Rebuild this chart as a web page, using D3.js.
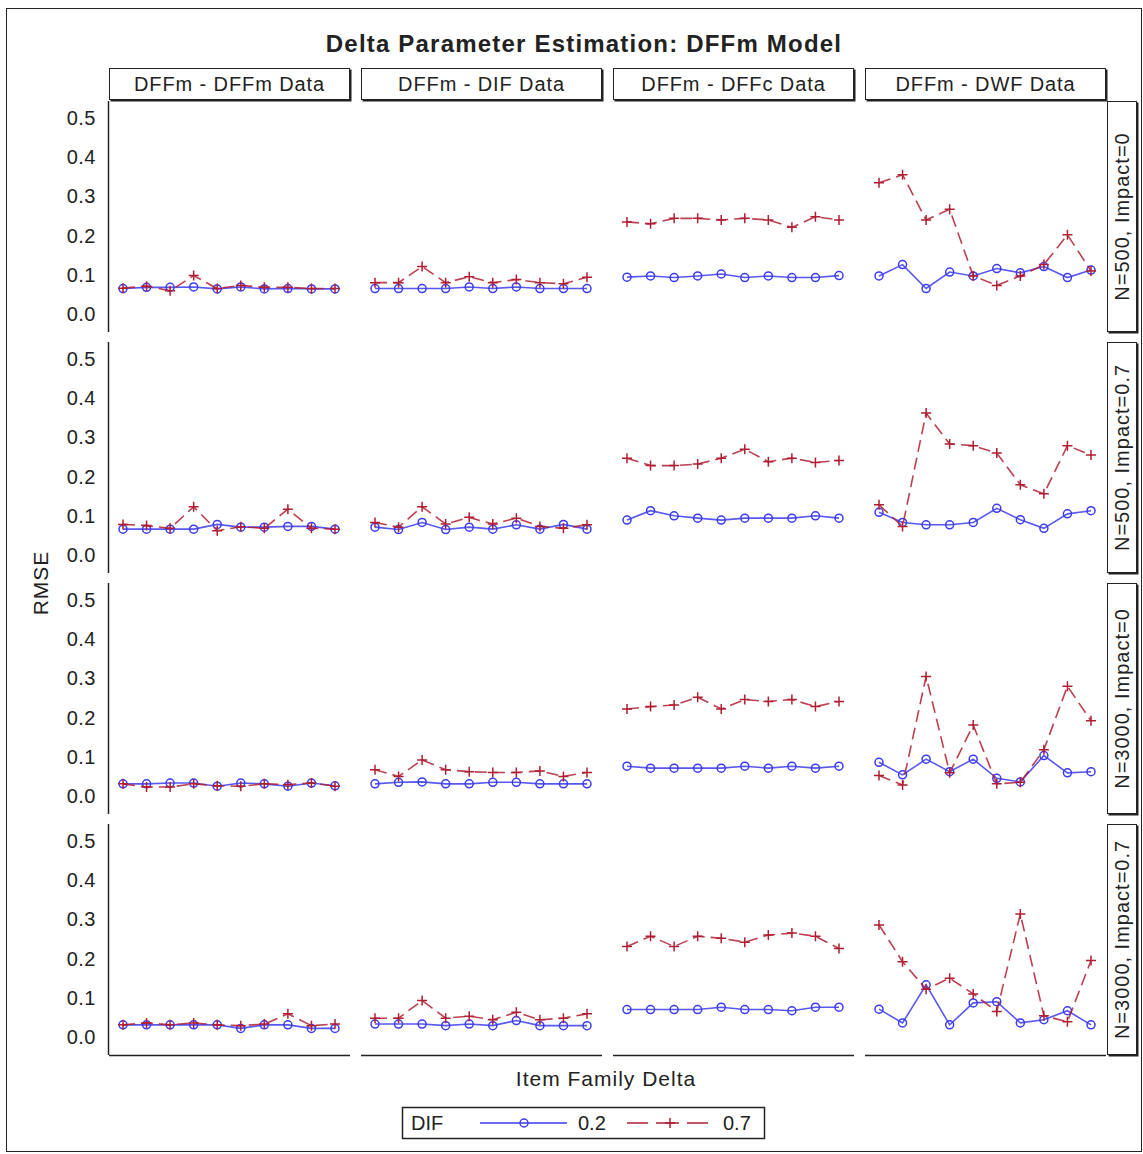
<!DOCTYPE html>
<html>
<head>
<meta charset="utf-8">
<script src="https://cdn.jsdelivr.net/npm/d3@7"></script>
<style>
  body { margin: 0; background: #fff; }
  text { font-family: "Liberation Sans", Arial, sans-serif; fill: #222; }
</style>
</head>
<body>
<div id="chart"></div>
<script>

// facets
var colNames = ["DFFm - DFFm Data", "DFFm - DIF Data", "DFFm - DFFc Data", "DFFm - DWF Data"];
var rowNames = ["N=500, Impact=0", "N=500, Impact=0.7", "N=3000, Impact=0", "N=3000, Impact=0.7"];

// item family delta (10 items, no labels shown)
var delta = [1, 2, 3, 4, 5, 6, 7, 8, 9, 10];
var yTicks = [0.0, 0.1, 0.2, 0.3, 0.4, 0.5];

// RMSE, DIF = 0.2, [row][col]
var dif02 = [
  [[0.065,0.068,0.068,0.069,0.064,0.069,0.064,0.065,0.064,0.064],
   [0.065,0.065,0.065,0.065,0.069,0.065,0.069,0.065,0.065,0.065],
   [0.094,0.097,0.093,0.097,0.102,0.093,0.097,0.093,0.093,0.098],
   [0.097,0.126,0.065,0.107,0.097,0.116,0.105,0.121,0.093,0.112]],
  [[0.066,0.066,0.066,0.066,0.078,0.071,0.071,0.073,0.073,0.066],
   [0.071,0.065,0.083,0.065,0.071,0.066,0.077,0.066,0.078,0.066],
   [0.089,0.113,0.100,0.094,0.089,0.094,0.094,0.094,0.100,0.094],
   [0.109,0.083,0.077,0.077,0.083,0.119,0.090,0.068,0.105,0.113]],
  [[0.031,0.031,0.033,0.033,0.025,0.033,0.031,0.025,0.033,0.026],
   [0.031,0.035,0.036,0.031,0.031,0.035,0.035,0.031,0.031,0.031],
   [0.076,0.071,0.071,0.071,0.071,0.076,0.071,0.076,0.071,0.076],
   [0.086,0.054,0.094,0.062,0.094,0.045,0.036,0.103,0.059,0.062]],
  [[0.031,0.031,0.031,0.031,0.031,0.022,0.031,0.031,0.022,0.022],
   [0.033,0.033,0.033,0.029,0.033,0.029,0.042,0.029,0.029,0.029],
   [0.070,0.070,0.070,0.070,0.076,0.070,0.070,0.067,0.076,0.076],
   [0.071,0.036,0.133,0.031,0.087,0.090,0.036,0.044,0.067,0.031]]
];

// RMSE, DIF = 0.7, [row][col]
var dif07 = [
  [[0.066,0.071,0.059,0.098,0.065,0.073,0.068,0.068,0.065,0.065],
   [0.080,0.080,0.121,0.080,0.095,0.080,0.088,0.080,0.077,0.094],
   [0.235,0.230,0.244,0.244,0.240,0.244,0.240,0.221,0.248,0.240],
   [0.335,0.355,0.240,0.267,0.097,0.073,0.097,0.126,0.202,0.110]],
  [[0.078,0.075,0.068,0.123,0.062,0.072,0.068,0.117,0.068,0.066],
   [0.083,0.071,0.123,0.079,0.096,0.079,0.094,0.073,0.068,0.077],
   [0.247,0.228,0.228,0.232,0.247,0.270,0.238,0.247,0.236,0.241],
   [0.128,0.073,0.362,0.283,0.279,0.260,0.179,0.156,0.279,0.255]],
  [[0.031,0.023,0.023,0.031,0.026,0.025,0.031,0.029,0.033,0.025],
   [0.067,0.050,0.092,0.067,0.062,0.060,0.060,0.064,0.050,0.060],
   [0.222,0.228,0.232,0.252,0.222,0.246,0.241,0.246,0.228,0.241],
   [0.052,0.028,0.305,0.059,0.181,0.031,0.035,0.118,0.280,0.192]],
  [[0.031,0.036,0.031,0.036,0.031,0.029,0.033,0.059,0.029,0.033],
   [0.048,0.048,0.093,0.048,0.053,0.044,0.063,0.044,0.048,0.059],
   [0.231,0.257,0.231,0.257,0.252,0.242,0.260,0.265,0.257,0.226],
   [0.286,0.192,0.122,0.150,0.110,0.065,0.314,0.054,0.039,0.195]]
];

var legendLabels = ["0.2", "0.7"];

var width = 1143, height = 1154;
var blue = "#3b3bf0", red = "#b01e32";

var panelW = 241, panelH = 231;
var left0 = 109, top0 = 101;
var colStep = 252, rowStep = 241;

var svg = d3.select("#chart")
  .append("svg")
  .attr("width", width)
  .attr("height", height);

// outer frame
svg.append("rect")
  .attr("x", 6.5).attr("y", 8.5)
  .attr("width", 1135).attr("height", 1143)
  .attr("fill", "none")
  .attr("stroke", "#222");

svg.append("text")
  .attr("x", 584).attr("y", 52)
  .attr("text-anchor", "middle")
  .style("font-size", "24px")
  .style("font-weight", "bold")
  .style("letter-spacing", "1.2px")
  .text("Delta Parameter Estimation: DFFm Model");

var x = d3.scaleLinear().domain([1, 10]).range([14, 226]);
var y = d3.scaleLinear().domain([0, 0.5]).range([213, 17]);

// strip box with a little shadow on bottom/right
function strip(g, w, h) {
  g.append("rect")
    .attr("x", 1.5).attr("y", 1.5)
    .attr("width", w).attr("height", h)
    .attr("fill", "#222");
  g.append("rect")
    .attr("x", 0.5).attr("y", 0.5)
    .attr("width", w - 1).attr("height", h - 1)
    .attr("fill", "#fff")
    .attr("stroke", "#222");
}

colNames.forEach(function(name, c) {
  var g = svg.append("g")
    .attr("transform", "translate(" + (left0 + c * colStep) + ",68)");
  strip(g, panelW, 32);
  g.append("text")
    .attr("x", panelW / 2).attr("y", 23)
    .attr("text-anchor", "middle")
    .style("font-size", "20px")
    .style("letter-spacing", "0.9px")
    .text(name);
});

rowNames.forEach(function(name, r) {
  var g = svg.append("g")
    .attr("transform", "translate(1107," + (top0 + r * rowStep) + ")");
  strip(g, 30, panelH);
  g.append("text")
    .attr("transform", "translate(22," + (panelH / 2) + ") rotate(-90)")
    .attr("text-anchor", "middle")
    .style("font-size", "20px")
    .style("letter-spacing", "1px")
    .text(name);
});

var line = d3.line()
  .x(function(d, i) { return x(delta[i]); })
  .y(function(d) { return y(d); });

for (var r = 0; r < rowNames.length; r++) {
  for (var c = 0; c < colNames.length; c++) {
    var g = svg.append("g")
      .attr("transform", "translate(" + (left0 + c * colStep) + "," + (top0 + r * rowStep) + ")");

    if (c == 0) {
      g.append("line")
        .attr("x1", -0.5).attr("x2", -0.5)
        .attr("y1", 0).attr("y2", panelH)
        .attr("stroke", "#222").attr("stroke-width", 1.5);
      var ax = g.append("g")
        .call(d3.axisLeft(y).tickValues(yTicks).tickSize(0).tickPadding(13).tickFormat(d3.format(".1f")));
      ax.select(".domain").remove();
      ax.selectAll("text")
        .style("font-size", "20px")
        .style("letter-spacing", "0.5px")
        .style("font-family", "Liberation Sans, Arial, sans-serif")
        .attr("fill", "#222");
    }
    if (r == rowNames.length - 1) {
      g.append("line")
        .attr("x1", 0).attr("x2", panelW)
        .attr("y1", panelH + 0.5).attr("y2", panelH + 0.5)
        .attr("stroke", "#222").attr("stroke-width", 1.5);
    }

    // DIF 0.2 : solid blue + circles
    g.append("path")
      .datum(dif02[r][c])
      .attr("d", line)
      .attr("fill", "none")
      .attr("stroke", blue)
      .attr("stroke-opacity", 0.85)
      .attr("stroke-width", 1.6);
    g.selectAll(".circ")
      .data(dif02[r][c])
      .enter()
      .append("circle")
      .attr("cx", function(d, i) { return x(delta[i]); })
      .attr("cy", function(d) { return y(d); })
      .attr("r", 4)
      .attr("fill", "none")
      .attr("stroke", blue)
      .attr("stroke-width", 1.5);

    // DIF 0.7 : dashed red + plus
    g.append("path")
      .datum(dif07[r][c])
      .attr("d", line)
      .attr("fill", "none")
      .attr("stroke", red)
      .attr("stroke-opacity", 0.85)
      .attr("stroke-dasharray", "12,6")
      .attr("stroke-width", 1.6);
    g.selectAll(".plus")
      .data(dif07[r][c])
      .enter()
      .append("path")
      .attr("transform", function(d, i) { return "translate(" + x(delta[i]) + "," + y(d) + ")"; })
      .attr("d", "M-5,0H5M0,-5V5")
      .attr("stroke", red)
      .attr("stroke-width", 1.5);
  }
}

// axis titles
svg.append("text")
  .attr("transform", "translate(48,583) rotate(-90)")
  .attr("text-anchor", "middle")
  .style("font-size", "21px")
  .style("letter-spacing", "1px")
  .text("RMSE");

svg.append("text")
  .attr("x", 606).attr("y", 1086)
  .attr("text-anchor", "middle")
  .style("font-size", "21px")
  .style("letter-spacing", "1px")
  .text("Item Family Delta");

// legend
var leg = svg.append("g").attr("transform", "translate(402,1107)");
leg.append("rect")
  .attr("x", 0.5).attr("y", 0.5)
  .attr("width", 362).attr("height", 31)
  .attr("fill", "#fff").attr("stroke", "#222").attr("stroke-width", 1.5);
leg.append("text").attr("x", 9).attr("y", 23).style("font-size", "20px").text("DIF");

leg.append("line")
  .attr("x1", 78).attr("x2", 165).attr("y1", 16).attr("y2", 16)
  .attr("stroke", blue).attr("stroke-width", 1.5);
leg.append("circle")
  .attr("cx", 122).attr("cy", 16).attr("r", 4)
  .attr("fill", "none").attr("stroke", blue).attr("stroke-width", 1.5);
leg.append("text").attr("x", 176).attr("y", 23).style("font-size", "20px").text(legendLabels[0]);

leg.append("line")
  .attr("x1", 225).attr("x2", 306).attr("y1", 16).attr("y2", 16)
  .attr("stroke", red).attr("stroke-width", 1.5)
  .attr("stroke-dasharray", "21,8,23,8,21");
leg.append("path")
  .attr("transform", "translate(268,16)")
  .attr("d", "M-5,0H5M0,-5V5")
  .attr("stroke", red).attr("stroke-width", 1.5);
leg.append("text").attr("x", 321).attr("y", 23).style("font-size", "20px").text(legendLabels[1]);

</script>
</body>
</html>
